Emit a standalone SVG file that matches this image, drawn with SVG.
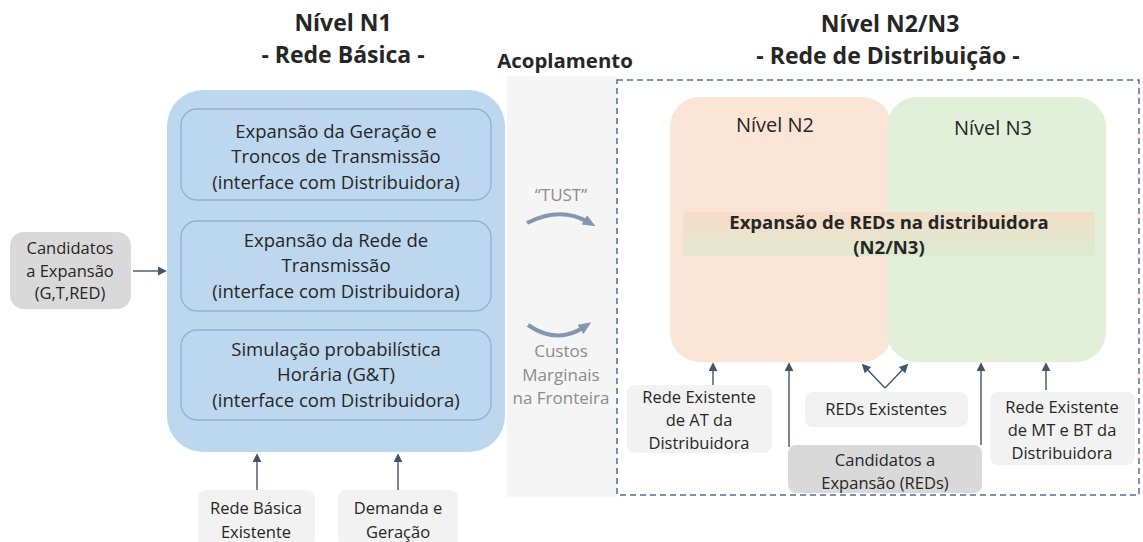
<svg xmlns="http://www.w3.org/2000/svg" width="1143" height="542" viewBox="0 0 1143 542">
<style>
text{font-family:"Open Sans","DejaVu Sans",sans-serif;fill:#262626;text-anchor:middle}
.title{font-size:23px;font-weight:bold}
.sub{font-size:20.4px;font-weight:bold}
.inner{font-size:18.5px}
.sm{font-size:16.5px}
.lbl{font-size:16.5px}
.nv{font-size:20px}
.bold{font-size:18.5px;font-weight:bold}
.gray{fill:#8c8c8c;font-size:17px}
.light{fill:#f2f2f2}
.dark{fill:#d9d9d9}
.ib{fill:#bdd7ee;stroke:#93b0d6;stroke-width:1.3}
.conn{stroke:#44546a;stroke-width:1.4;fill:none;marker-end:url(#ah)}
.curve{stroke:#8497b0;stroke-width:4;fill:none;marker-end:url(#big)}
</style>
<defs>
<marker id="ah" viewBox="0 0 10 10" refX="8" refY="5" markerWidth="9" markerHeight="9" markerUnits="userSpaceOnUse" orient="auto"><path d="M0,0 L10,5 L0,10 z" fill="#44546a"/></marker>
<marker id="big" viewBox="0 0 12 10" refX="4" refY="5" markerWidth="13" markerHeight="11" markerUnits="userSpaceOnUse" orient="auto"><path d="M0,0 L12,5 L0,10 z" fill="#8497b0"/></marker>
<linearGradient id="band" x1="0" y1="0" x2="0" y2="1"><stop offset="0" stop-color="#f8d9c4"/><stop offset="1" stop-color="#d8eacd"/></linearGradient>
</defs>

<g id="titles">
<text class="title" x="343" y="31">Nível N1</text>
<text class="title" x="343" y="63">- Rede Básica -</text>
<text class="sub" x="565" y="68">Acoplamento</text>
<text class="title" x="890" y="32">Nível N2/N3</text>
<text class="title" x="888" y="64">- Rede de Distribuição -</text>
</g>

<g id="acoplamento">
<rect x="507" y="76" width="110" height="421" fill="#f5f5f5"/>
<text class="gray" x="561" y="201">“TUST”</text>
<text class="gray" x="561" y="357">Custos</text>
<text class="gray" x="561" y="380.5">Marginais</text>
<text class="gray" x="561" y="404">na Fronteira</text>
</g>

<g id="distribuicao-frame">
<rect x="617" y="80" width="522" height="415" fill="none" stroke="#4f6d9a" stroke-width="1.5" stroke-dasharray="6 4"/>
</g>

<g id="n1">
<rect x="167" y="90" width="338" height="362" rx="36" fill="#bdd7ee"/>
<g id="n1-geracao">
<rect class="ib" x="181" y="109" width="310" height="91" rx="16"/>
<text class="inner" x="336" y="138">Expansão da Geração e</text>
<text class="inner" x="336" y="163.3">Troncos de Transmissão</text>
<text class="inner" x="336" y="188.6">(interface com Distribuidora)</text>
</g>
<g id="n1-transmissao">
<rect class="ib" x="181" y="221" width="310" height="90" rx="16"/>
<text class="inner" x="336" y="247">Expansão da Rede de</text>
<text class="inner" x="336" y="272.3">Transmissão</text>
<text class="inner" x="336" y="297.6">(interface com Distribuidora)</text>
</g>
<g id="n1-simulacao">
<rect class="ib" x="181" y="330" width="310" height="90" rx="16"/>
<text class="inner" x="336" y="356">Simulação probabilística</text>
<text class="inner" x="336" y="381.3">Horária (G&amp;T)</text>
<text class="inner" x="336" y="406.6">(interface com Distribuidora)</text>
</g>
</g>

<g id="candidatos-gtred">
<rect class="dark" x="10" y="232" width="121" height="77" rx="14"/>
<text class="lbl" x="70" y="254">Candidatos</text>
<text class="lbl" x="70" y="276.5">a Expansão</text>
<text class="lbl" x="70" y="299">(G,T,RED)</text>
</g>

<g id="rede-basica-existente">
<rect class="light" x="198" y="490" width="117" height="56" rx="8"/>
<text class="sm" x="256" y="514">Rede Básica</text>
<text class="sm" x="256" y="538">Existente</text>
</g>

<g id="demanda-geracao">
<rect class="light" x="338" y="490" width="120" height="56" rx="8"/>
<text class="sm" x="398" y="514">Demanda e</text>
<text class="sm" x="398" y="538">Geração</text>
</g>

<g id="n2">
<rect x="670" y="97" width="222" height="265" rx="30" fill="#fbe5d6"/>
<text class="nv" x="775" y="132">Nível N2</text>
</g>
<g id="n3">
<rect x="887" y="97" width="219" height="265" rx="30" fill="#e2f0d9"/>
<text class="nv" x="993" y="135">Nível N3</text>
</g>

<g id="expansao-reds">
<rect x="683" y="212" width="412" height="44" rx="4" fill="url(#band)" opacity="0.8"/>
<text class="bold" x="889" y="228.5">Expansão de REDs na distribuidora</text>
<text class="bold" x="889" y="254">(N2/N3)</text>
</g>

<g id="rede-at">
<rect class="light" x="627" y="385" width="145" height="68" rx="8"/>
<text class="sm" x="699" y="403">Rede Existente</text>
<text class="sm" x="699" y="426">de AT da</text>
<text class="sm" x="699" y="449">Distribuidora</text>
</g>

<g id="reds-existentes">
<rect class="light" x="805" y="392" width="163" height="35" rx="8"/>
<text class="sm" x="886" y="415">REDs Existentes</text>
</g>

<g id="candidatos-reds">
<rect class="dark" x="788" y="445" width="194" height="48" rx="8"/>
<text class="sm" x="885" y="466">Candidatos a</text>
<text class="sm" x="885" y="489">Expansão (REDs)</text>
</g>

<g id="rede-mt-bt">
<rect class="light" x="990" y="392" width="145" height="73" rx="8"/>
<text class="sm" x="1062" y="413">Rede Existente</text>
<text class="sm" x="1062" y="436">de MT e BT da</text>
<text class="sm" x="1062" y="459">Distribuidora</text>
</g>

<g id="connectors">
<path class="conn" d="M133,271 L165,271"/>
<path class="conn" d="M257,490 L257,455"/>
<path class="conn" d="M398,490 L398,455"/>
<path class="conn" d="M713,385 L713,364"/>
<path class="conn" d="M789,447 L789,364"/>
<path class="conn" d="M981,445 L981,364"/>
<path class="conn" d="M1046,390 L1046,364"/>
<path class="conn" d="M885,388 L863,365"/>
<path class="conn" d="M885,388 L907,365"/>
<path class="curve" d="M527,223 Q560,206 588,222"/>
<path class="curve" d="M528,325 Q557,345 584,327"/>
</g>
</svg>
